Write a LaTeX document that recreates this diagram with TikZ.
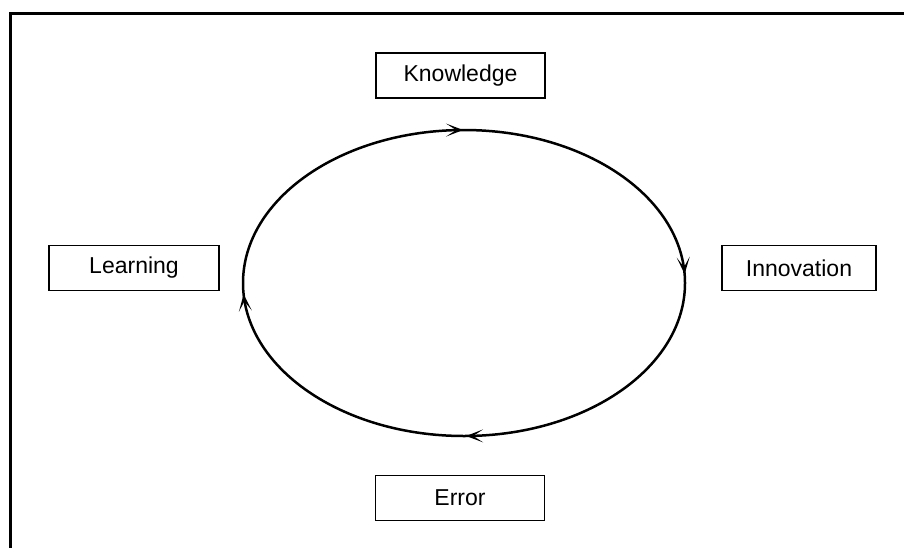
\documentclass[tikz,border=0pt]{standalone}
\usepackage{fontspec}
\setmainfont{Liberation Sans}
\usetikzlibrary{arrows.meta,decorations.markings}
\begin{document}
\begin{tikzpicture}[x=1pt,y=-1pt,
  conceptbox/.style={draw, line width=1.6pt, minimum width=169pt, minimum height=45pt,
    inner sep=0pt, font=\fontsize{23}{27}\selectfont},
  barb/.tip={Stealth[length=17pt,width=13pt,inset=10pt]},
  cyclepath/.style={line width=2.5pt,
    decoration={markings,
      mark=at position 0.0075 with {\arrowreversed{barb}},
      mark=at position 0.2508 with {\arrowreversed{barb}},
      mark=at position 0.5095 with {\arrowreversed{barb}},
      mark=at position 0.7518 with {\arrowreversed{barb}}},
    postaction={decorate}}]
  % page area, with the outer frame running past the right and bottom edges
  \clip (0,0) rectangle (904,547);
  \fill[white] (0,0) rectangle (904,547);
  \draw[line width=3pt] (10.5,13) rectangle (920,570);

  % the four stages
  \node[conceptbox] (knowledge)  at (460.5,75.5)  {Knowledge};
  \node[conceptbox, minimum width=154pt] (innovation) at (799,268) {Innovation};
  \node[conceptbox] (error)      at (460,498)   {Error};
  \node[conceptbox, minimum width=170pt] (learning)   at (134,268)   {Learning};

  % the cycle joining them, running clockwise
  \coordinate (centre) at (464,283);
  \draw[cyclepath] (centre) ellipse [x radius=221pt, y radius=153pt];
\end{tikzpicture}
\end{document}
